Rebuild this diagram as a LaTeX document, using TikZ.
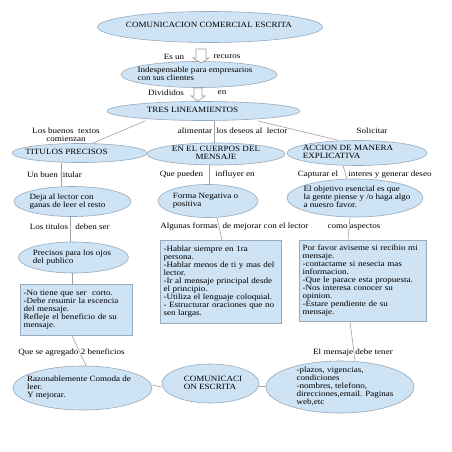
\documentclass[tikz,border=0pt]{standalone}
\usepackage{fontspec}
\setmainfont{Liberation Serif}[FakeStretch=1.13]
\usetikzlibrary{shapes.geometric}
\definecolor{efill}{RGB}{206,227,243}
\definecolor{eline}{RGB}{150,170,190}
\definecolor{cline}{RGB}{160,160,160}
\newcommand\dfont{\fontsize{8}{8}\selectfont}
\newcommand\etext[2][0pt]{\makebox[0pt]{\hspace*{#1}\smash{\raisebox{-1.9pt}{\begin{tabular}[c]{@{}l@{}}#2\end{tabular}}}\hspace*{-#1}}}
\newcommand\ctext[1]{\makebox[0pt]{\smash{\raisebox{-1.9pt}{\begin{tabular}[c]{@{}c@{}}#1\end{tabular}}}}}
\begin{document}
\begin{tikzpicture}[x=1pt,y=-1pt,
  ell/.style={ellipse, draw=eline, fill=efill, line width=0.6pt, inner sep=0pt, font=\dfont},
  bx/.style={rectangle, draw=eline, fill=efill, line width=0.6pt, inner xsep=3.5pt, inner ysep=0pt, align=left, font=\dfont},
  lbl/.style={inner sep=0pt, font=\dfont},
  conn/.style={draw=cline, line width=0.6pt},
  barrow/.style={draw=cline, fill=white, line width=0.6pt}]
\useasboundingbox[fill=white] (0,0) rectangle (452,452);

% main ellipses
\node[ell, minimum width=225, minimum height=31] (top) at (210,27) {\etext[-1pt]{\raisebox{1.5pt}{COMUNICACION COMERCIAL ESCRITA}}};
\node[ell, minimum width=156, minimum height=26] (indes) at (199,74.5) {\etext[-4pt]{Indespensable para empresarios\\con sus clientes}};
\node[ell, minimum width=193, minimum height=19] (tres) at (203.5,111) {\etext[-11pt]{TRES LINEAMIENTOS}};

% block arrows
\draw[barrow] (196,49) -- (206,49) -- (206,58) -- (209,58) -- (201,63) -- (193,58) -- (196,58) -- cycle;
\draw[barrow] (194,88) -- (202,88) -- (202,96) -- (205,96) -- (198,101) -- (191,96) -- (194,96) -- cycle;

% labels top
\node[lbl] (lesun) at (174,57) {Es un};
\node[lbl] (lrecu) at (227,57) {recuros};
\node[lbl] (ldiv) at (166,93) {Divididos};
\node[lbl] (len) at (222,93) {en};

% second row
\node[ell, minimum width=135, minimum height=19] (titulos) at (79.5,153) {\etext[-13pt]{TITULOS PRECISOS}};
\node[ell, minimum width=138, minimum height=22] (cuerpo) at (216,154) {\ctext{EN EL CUERPOS DEL\\MENSAJE}};
\node[ell, minimum width=140, minimum height=25] (accion) at (357,153) {\etext[-9pt]{ACCION DE MANERA\\EXPLICATIVA}};

\node[lbl, align=center] (lbuenos) at (66,135) {Los buenos\ \ textos\\comienzan};
\node[lbl] (lalim) at (195,131) {alimentar};
\node[lbl] (ldeseos) at (252,131) {los deseos al\ \ lector};
\node[lbl] (lsolic) at (372,131) {Solicitar};

% third row
\node[ell, minimum width=117, minimum height=30] (deja) at (72.5,201.5) {\etext[-5pt]{Deja al lector con\\ganas de leer el resto}};
\node[ell, minimum width=100, minimum height=33] (forma) at (208,201) {\etext[-2.5pt]{Forma Negativa o\\positiva}};
\node[ell, minimum width=136, minimum height=38] (objetivo) at (355,198) {\etext[2pt]{El objetivo esencial es que\\la gente piense y /o haga algo\\a nuesro favor.}};

\node[lbl] (lbuen) at (54.5,175) {Un buen titular};
\node[lbl] (lquep) at (181.5,175) {Que pueden};
\node[lbl] (linfl) at (235,175) {influyer en};
\node[lbl] (lcapt) at (318,175) {Capturar el};
\node[lbl] (linter) at (390,175) {interes y generar deseo};

\node[lbl] (ltit) at (49,227) {Los titulos};
\node[lbl] (ldeb) at (92.5,227) {deben ser};
\node[lbl] (lalg) at (189,227) {Algunas formas};
\node[lbl] (lmej) at (265.5,227) {de mejorar con el lector};
\node[lbl] (lcomo) at (354,227) {como aspectos};

% fourth row
\node[ell, minimum width=110, minimum height=31] (precisos) at (73.5,257.5) {\etext[-1.5pt]{Precisos para los ojos\\del publico}};
\node[bx, minimum width=112, minimum height=51, text width=105] (box1) at (76,309.5) {-No tiene que ser\ \ corto.\\-Debe resumir la escencia\\del mensaje.\\Refleje el beneficio de su\\mensaje.};
\node[bx, minimum width=121, minimum height=83, text width=114] (box2) at (220.5,281.5) {-Hablar siempre en 1ra\\persona.\\-Hablar menos de ti y mas del\\lector.\\-Ir al mensaje principal desde\\el principio.\\-Utiliza el lenguaje coloquial.\\- Estructurar oraciones que no\\sen largas.};
\node[bx, minimum width=127, minimum height=81, text width=120] (box3) at (362.5,280.5) {Por favor aviseme si recibio mi\\mensaje.\\-contactame si nesecia mas\\informacion.\\-Que le parace esta propuesta.\\-Nos interesa conocer su\\opinion.\\-Estare pendiente de su\\mensaje.};

\node[lbl] (lque) at (71.5,353) {Que se agregado 2 beneficios};
\node[lbl] (lmsj) at (353,353) {El mensaje debe tener};

% bottom row
\node[ell, minimum width=139, minimum height=44] (razon) at (82.5,388) {\etext[-3.5pt]{Razonablemente Comoda de\\leer.\\Y mejorar.}};
\node[ell, minimum width=97, minimum height=39] (comun) at (210.5,383.5) {\etext[2.5pt]{COMUNICACI\\ON ESCRITA}};
\node[ell, minimum width=148, minimum height=52] (plazos) at (340,387) {\etext[5pt]{-plazos, vigencias,\\condiciones\\-nombres, telefono,\\direcciones,email. Paginas\\web,etc}};

% connectors
\draw[conn] ([xshift=-58pt]tres.south) -- ([xshift=13pt]titulos.north);
\draw[conn] ([xshift=10.5pt]tres.south) -- ([xshift=-2pt]cuerpo.north);
\draw[conn] ([xshift=54pt]tres.south) -- ([xshift=-19pt]accion.north);
\draw[conn] ([xshift=-18.5pt]titulos.south) -- ([xshift=-11.5pt]deja.north);
\draw[conn] ([xshift=-7pt]cuerpo.south) -- ([xshift=1pt]forma.north);
\draw[conn] ([xshift=-14pt]accion.south) -- ([xshift=-8pt]objetivo.north);
\draw[conn] ([xshift=-2.5pt]deja.south) -- ([xshift=-3.5pt]precisos.north);
\draw[conn] ([xshift=9pt]forma.south) -- ([xshift=1.5pt]box2.north);
\draw[conn] ([xshift=-5pt]objetivo.south) -- ([xshift=-14.5pt]box3.north);
\draw[conn] ([xshift=-1.5pt]precisos.south) -- ([xshift=-4pt]box1.north);
\draw[conn] ([xshift=-4pt]box1.south) -- ([xshift=3.5pt]razon.north);
\draw[conn] ([xshift=-12.5pt]box3.south) -- ([xshift=15pt]plazos.north);
\draw[conn] ([yshift=3pt]razon.east) -- ([yshift=-3.5pt]comun.west);
\draw[conn] ([yshift=-2.5pt]comun.east) -- ([yshift=1pt]plazos.west);
\end{tikzpicture}
\end{document}
